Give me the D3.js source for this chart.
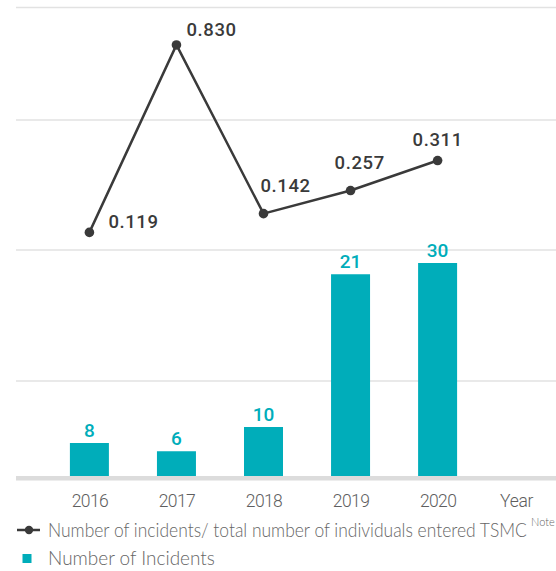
<!DOCTYPE html>
<html><head><meta charset="utf-8">
<script src="https://cdn.jsdelivr.net/npm/d3@7"></script>
<style>
html,body{margin:0;padding:0;background:#fff;}
svg{display:block;}
</style></head>
<body>
<svg id="chart" width="556" height="571"></svg>
<script>
// ---- data ----
const years = ["2016", "2017", "2018", "2019", "2020"];
const incidents = [8, 6, 10, 21, 30];
const ratio = [0.119, 0.830, 0.142, 0.257, 0.311];
const ratioLabels = ["0.119", "0.830", "0.142", "0.257", "0.311"];
const xAxisTitle = "Year";
const legendLine = "Number of incidents/ total number of individuals entered TSMC";
const legendNote = "Note";
const legendBar = "Number of Incidents";

// ---- layout ----
const W = 556, H = 571;
const teal = "#00adba", dark = "#3a3a3a";
const svg = d3.select("#chart");

const x = d3.scalePoint().domain(years).range([89.4, 437.6]);
const barW = 39;
const baseY = 476;
// designer's non-linear (broken) value scales
const yBar = d3.scaleLinear().domain([0, 8, 10, 20, 30]).range([baseY, 443, 427, 275.5, 263]);
const yLine = d3.scaleLinear().domain([0.1, 0.14, 0.25, 0.3, 0.85]).range([249, 214, 195, 163, 40.5]);

// gridlines
const gridY = [7.5, 120, 250, 381];
svg.append("g").selectAll("line").data(gridY).join("line")
  .attr("x1", 16).attr("x2", W).attr("y1", d => d).attr("y2", d => d)
  .attr("stroke", "#e2e2e2").attr("stroke-width", 1.5);

// bars
svg.append("g").selectAll("rect").data(years).join("rect")
  .attr("x", (d) => x(d) - barW / 2)
  .attr("width", barW)
  .attr("y", (d, i) => yBar(incidents[i]))
  .attr("height", (d, i) => baseY - yBar(incidents[i]))
  .attr("fill", teal);

// baseline band
svg.append("rect").attr("x", 16).attr("y", baseY).attr("width", W - 16).attr("height", 4.5).attr("fill", "#dcdcdc");

// bar labels
svg.append("g").selectAll("text").data(years).join("text")
  .attr("x", d => x(d))
  .attr("y", (d, i) => yBar(incidents[i]) - 6.5)
  .attr("text-anchor", "middle")
  .attr("font-family", "Roboto, sans-serif").attr("font-weight", 500)
  .attr("font-size", 19).attr("fill", teal)
  .text((d, i) => incidents[i]);

// x axis labels
const xAxis = d3.axisBottom(x).tickSize(0).tickPadding(0);
const gx = svg.append("g").attr("transform", `translate(0,${baseY})`).call(xAxis);
gx.select(".domain").remove();
gx.selectAll("text")
  .attr("y", 31).attr("dy", 0)
  .attr("font-family", "Roboto, sans-serif").attr("font-weight", 300)
  .attr("font-size", 17.5).attr("letter-spacing", -0.6).attr("fill", "#5e5e5e");
svg.append("text").attr("x", x("2020") + 79).attr("y", baseY + 31)
  .attr("text-anchor", "middle")
  .attr("font-family", "Roboto, sans-serif").attr("font-weight", 300)
  .attr("font-size", 17.5).attr("letter-spacing", -0.3).attr("fill", "#5e5e5e").text(xAxisTitle);

// line
const line = d3.line().x((d, i) => x(years[i])).y(d => yLine(d));
svg.append("path").datum(ratio).attr("d", line)
  .attr("fill", "none").attr("stroke", dark).attr("stroke-width", 2.5);
svg.append("g").selectAll("circle").data(ratio).join("circle")
  .attr("cx", (d, i) => x(years[i])).attr("cy", d => yLine(d)).attr("r", 4.8)
  .attr("fill", dark);

// line labels (offset from each point)
const labelOffsets = [[19, -4], [10, -8.5], [-3, -22], [-16, -22], [-25, -15]];
svg.append("g").selectAll("text").data(ratio).join("text")
  .attr("x", (d, i) => x(years[i]) + labelOffsets[i][0])
  .attr("y", (d, i) => yLine(d) + labelOffsets[i][1])
  .attr("font-family", "Roboto, sans-serif").attr("font-weight", 500)
  .attr("font-size", 18.5).attr("letter-spacing", 0.6).attr("fill", dark)
  .text((d, i) => ratioLabels[i]);

// legend (condensed horizontally to fit, like the reference's narrow face)
const legendFont = "Lato, sans-serif";
const lg = svg.append("g");
lg.append("line").attr("x1", 17).attr("x2", 40).attr("y1", 530).attr("y2", 530)
  .attr("stroke", dark).attr("stroke-width", 2.5);
lg.append("circle").attr("cx", 29).attr("cy", 530).attr("r", 4.2).attr("fill", dark);

function fitText(g, str, x0, y0, target, size) {
  const t = g.append("text").attr("x", 0).attr("y", 0)
    .attr("font-family", legendFont).attr("font-weight", 300)
    .attr("font-size", size).attr("fill", "#666").text(str);
  const len = t.node().getComputedTextLength();
  t.attr("transform", `translate(${x0},${y0}) scale(${target / len},1)`);
  return t;
}
fitText(lg, legendLine, 48, 536.5, 479, 19.5);
lg.append("text").attr("x", 531).attr("y", 526)
  .attr("font-family", legendFont).attr("font-weight", 300)
  .attr("font-size", 11).attr("fill", "#666").text(legendNote);

lg.append("rect").attr("x", 22.5).attr("y", 554).attr("width", 9).attr("height", 9).attr("fill", teal);
fitText(lg, legendBar, 48, 565, 167, 19.5);
</script>
</body></html>
